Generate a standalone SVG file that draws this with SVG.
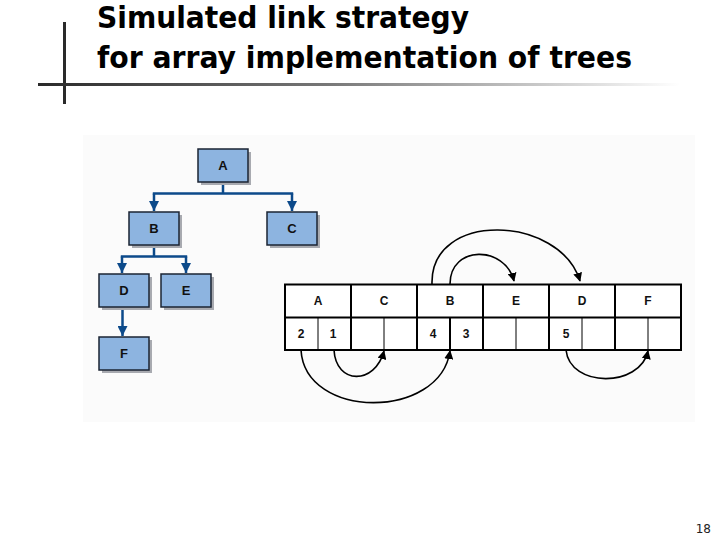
<svg xmlns="http://www.w3.org/2000/svg" width="720" height="540" viewBox="0 0 720 540">
<style>
.title{font-family:"DejaVu Sans Condensed","DejaVu Sans",sans-serif;font-weight:bold;font-size:30px;fill:#000}
.node rect.box{fill:#8db4e0;stroke:#1b2433;stroke-width:1.5}
.node rect.sh{fill:#a8aab0}
.node text{font-family:"Liberation Sans",Arial,sans-serif;font-weight:bold;font-size:13px;fill:#111;text-anchor:middle}
.tc{stroke:#0c4a8a;stroke-width:2.5;fill:none}
.cell{fill:#fff;stroke:#000;stroke-width:2}
.sub{stroke:#000;stroke-width:1}
.lbl{font-family:"Liberation Sans",Arial,sans-serif;font-weight:bold;font-size:12px;fill:#111;text-anchor:middle}
.arc{stroke:#000;stroke-width:1.6;fill:none}
</style>
<defs>
<linearGradient id="g" x1="0" x2="1" y1="0" y2="0">
<stop offset="0" stop-color="#2a2a2a"/>
<stop offset="0.45" stop-color="#777"/>
<stop offset="1" stop-color="#fff"/>
</linearGradient>
<marker id="ab" viewBox="0 0 10 10" refX="10" refY="5" markerWidth="10" markerHeight="10" markerUnits="userSpaceOnUse" orient="auto">
<path d="M0,0 L10,5 L0,10 Z" fill="#0c4a8a"/>
</marker>
<marker id="ak" viewBox="0 0 10 10" refX="9" refY="5" markerWidth="9" markerHeight="9" markerUnits="userSpaceOnUse" orient="auto">
<path d="M0,0 L10,5 L0,10 Z" fill="#000"/>
</marker>
</defs>
<rect width="720" height="540" fill="#fff"/>
<rect x="83" y="135" width="612" height="287" fill="#fbfbfb"/>
<g id="title">
<rect x="63" y="22" width="3" height="82" fill="#2a2a2a"/>
<rect x="38" y="83" width="642" height="3" fill="url(#g)"/>
<text class="title" x="97" y="28" textLength="372" lengthAdjust="spacingAndGlyphs">Simulated link strategy</text>
<text class="title" x="97" y="68" textLength="535" lengthAdjust="spacingAndGlyphs">for array implementation of trees</text>
</g>
<g id="tree-connectors">
<path class="tc" d="M223,182 V193.5 M152.8,193.5 H293.2"/>
<path class="tc" d="M154,193.5 V211" marker-end="url(#ab)"/>
<path class="tc" d="M292,193.5 V211" marker-end="url(#ab)"/>
<path class="tc" d="M154,245 V256.5 M120.8,256.5 H187.2"/>
<path class="tc" d="M122,256.5 V273" marker-end="url(#ab)"/>
<path class="tc" d="M186,256.5 V273" marker-end="url(#ab)"/>
<path class="tc" d="M122.5,307 V336" marker-end="url(#ab)"/>
</g>
<g id="nodeA" class="node"><rect class="sh" x="201" y="152" width="50" height="33"/><rect class="box" x="198" y="149" width="50" height="33"/><text x="223" y="170">A</text></g>
<g id="nodeB" class="node"><rect class="sh" x="132" y="215" width="50" height="33"/><rect class="box" x="129" y="212" width="50" height="33"/><text x="154" y="233">B</text></g>
<g id="nodeC" class="node"><rect class="sh" x="270" y="215" width="50" height="33"/><rect class="box" x="267" y="212" width="50" height="33"/><text x="292" y="233">C</text></g>
<g id="nodeD" class="node"><rect class="sh" x="102" y="277" width="50" height="33"/><rect class="box" x="99" y="274" width="50" height="33"/><text x="124" y="295">D</text></g>
<g id="nodeE" class="node"><rect class="sh" x="164" y="277" width="50" height="33"/><rect class="box" x="161" y="274" width="50" height="33"/><text x="186" y="295">E</text></g>
<g id="nodeF" class="node"><rect class="sh" x="102" y="340" width="50" height="33"/><rect class="box" x="99" y="337" width="50" height="33"/><text x="124" y="358">F</text></g>
<g id="array">
<rect class="cell" x="285" y="284.5" width="396" height="65.5"/>
<line class="cell" x1="285" y1="317.5" x2="681" y2="317.5"/>
<path class="cell" d="M351,284.5 V350 M417,284.5 V350 M483,284.5 V350 M549,284.5 V350 M615,284.5 V350"/>
<path class="sub" d="M318,317.5 V350 M384,317.5 V350 M516,317.5 V350 M582,317.5 V350 M648,317.5 V350"/>
<path class="cell" d="M450,317.5 V350"/>
<text class="lbl" x="318" y="305">A</text>
<text class="lbl" x="384" y="305">C</text>
<text class="lbl" x="450" y="305">B</text>
<text class="lbl" x="516" y="305">E</text>
<text class="lbl" x="582" y="305">D</text>
<text class="lbl" x="648" y="305">F</text>
<text class="lbl" x="301" y="338">2</text>
<text class="lbl" x="333" y="338">1</text>
<text class="lbl" x="433" y="338">4</text>
<text class="lbl" x="466" y="338">3</text>
<text class="lbl" x="566" y="338">5</text>
</g>
<g id="array-connectors">
<path class="arc" d="M432,284 C430,210 560,215 580,281" marker-end="url(#ak)"/>
<path class="arc" d="M450,284 C450,245 505,245 514,281" marker-end="url(#ak)"/>
<path class="arc" d="M301,350 C305,420 440,420 450,351" marker-end="url(#ak)"/>
<path class="arc" d="M334,350 C336,385 375,385 384,351" marker-end="url(#ak)"/>
<path class="arc" d="M566,350 C570,388 640,388 648,351" marker-end="url(#ak)"/>
</g>
<text x="711" y="533" font-family="'DejaVu Sans',sans-serif" font-size="12" fill="#222" text-anchor="end">18</text>
</svg>
